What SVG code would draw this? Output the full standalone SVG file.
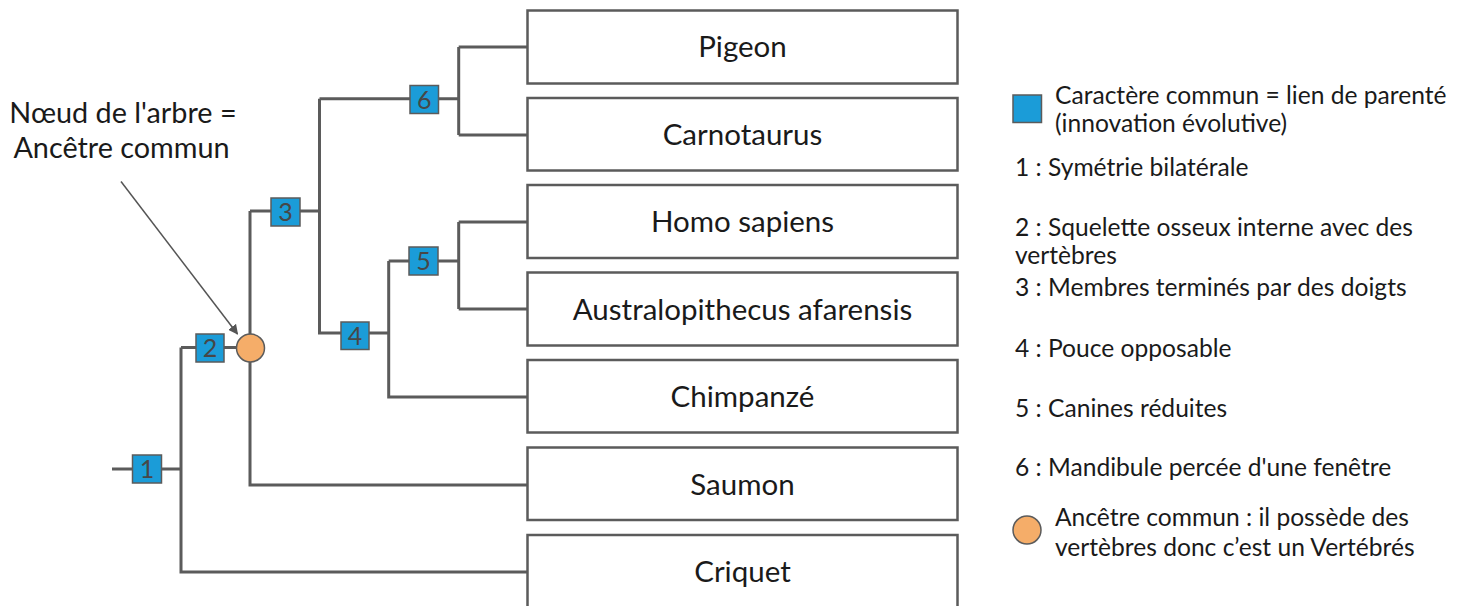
<svg xmlns="http://www.w3.org/2000/svg" width="1467" height="606" viewBox="0 0 1467 606">
<style>
  .box { fill: #ffffff; stroke: #5b5b5b; stroke-width: 2.5; }
  .lbl { font-family: Lato, "Open Sans", sans-serif; font-size: 29.5px; fill: #1a1a1a; text-anchor: middle; }
  .edge { fill: none; stroke: #5b5b5b; stroke-width: 3; }
  .sq { fill: #1b9cd8; stroke: #5b5b5b; stroke-width: 1.5; }
  .num { font-family: Lato, "Open Sans", sans-serif; font-size: 25px; fill: #474747; text-anchor: middle; }
  .anc { fill: #f5ad69; stroke: #5b5b5b; stroke-width: 1.5; }
  .leg { font-family: Lato, "Open Sans", sans-serif; font-size: 24.6px; fill: #1a1a1a; }
  .note { font-family: Lato, "Open Sans", sans-serif; font-size: 28.8px; fill: #1a1a1a; text-anchor: middle; }
</style>
<defs>
  <marker id="arr" markerWidth="10" markerHeight="10" refX="9" refY="5" orient="auto" markerUnits="userSpaceOnUse" viewBox="0 0 10 10">
    <path d="M0,0 L10,5 L0,10 z" fill="#555555"/>
  </marker>
</defs>
<rect width="1467" height="606" fill="#ffffff"/>

<g id="connectors">
  <path class="edge" d="M112,469 H181 M181,347.5 V572 H527.5"/>
  <path class="edge" d="M181,347.5 H250"/>
  <path class="edge" d="M250,211 V485 H527.5"/>
  <path class="edge" d="M250,211 H319.5 M319.5,98.7 V333 H388.7"/>
  <path class="edge" d="M319.5,98.7 H458.7 M458.7,47 V135 M458.7,47 H527.5 M458.7,135 H527.5"/>
  <path class="edge" d="M388.7,261 V397 H527.5 M388.7,261 H458.7 M458.7,222 V309 M458.7,222 H527.5 M458.7,309 H527.5"/>
  <line x1="121" y1="181.5" x2="237.5" y2="334" stroke="#555555" stroke-width="1.5" marker-end="url(#arr)"/>
</g>

<g id="char1"><rect class="sq" x="132.5" y="455" width="29" height="28"/><text class="num" x="147" y="478">1</text></g>
<g id="char2"><rect class="sq" x="196" y="334" width="28" height="28"/><text class="num" x="210" y="357">2</text></g>
<g id="char3"><rect class="sq" x="271" y="198" width="29" height="28"/><text class="num" x="285.5" y="221">3</text></g>
<g id="char4"><rect class="sq" x="341" y="322" width="28" height="27.5"/><text class="num" x="355" y="344.5">4</text></g>
<g id="char5"><rect class="sq" x="409" y="247" width="29" height="28"/><text class="num" x="423.5" y="270">5</text></g>
<g id="char6"><rect class="sq" x="410" y="85.5" width="28.5" height="28"/><text class="num" x="424.2" y="108.5">6</text></g>
<g id="ancestor"><circle class="anc" cx="250.5" cy="348" r="14"/></g>

<g id="note">
  <text class="note" x="123" y="123">Nœud de l'arbre =</text>
  <text class="note" x="121.5" y="158">Ancêtre commun</text>
</g>

<g id="pigeon"><rect class="box" x="527.5" y="10.5" width="430" height="73"/><text class="lbl" x="742.5" y="57">Pigeon</text></g>
<g id="carnotaurus"><rect class="box" x="527.5" y="98" width="430" height="72.5"/><text class="lbl" x="742.5" y="144.5">Carnotaurus</text></g>
<g id="homo"><rect class="box" x="527.5" y="185" width="430" height="73"/><text class="lbl" x="742.5" y="232">Homo sapiens</text></g>
<g id="australopithecus"><rect class="box" x="527.5" y="272.5" width="430" height="73"/><text class="lbl" x="742.5" y="319.5">Australopithecus afarensis</text></g>
<g id="chimpanze"><rect class="box" x="527.5" y="360" width="430" height="72.5"/><text class="lbl" x="742.5" y="407">Chimpanzé</text></g>
<g id="saumon"><rect class="box" x="527.5" y="447.5" width="430" height="72.5"/><text class="lbl" x="742.5" y="494.5">Saumon</text></g>
<g id="criquet"><rect class="box" x="527.5" y="535" width="430" height="73"/><text class="lbl" x="742.5" y="582">Criquet</text></g>

<g id="legend">
  <rect class="sq" x="1013" y="95" width="28.5" height="27.5"/>
  <text class="leg" x="1055" y="104">Caractère commun = lien de parenté</text>
  <text class="leg" x="1055" y="132">(innovation évolutive)</text>
  <text class="leg" x="1015" y="176">1 : Symétrie bilatérale</text>
  <text class="leg" x="1015" y="236">2 : Squelette osseux interne avec des</text>
  <text class="leg" x="1015" y="264">vertèbres</text>
  <text class="leg" x="1015" y="296">3 : Membres terminés par des doigts</text>
  <text class="leg" x="1015" y="357">4 : Pouce opposable</text>
  <text class="leg" x="1015" y="417">5 : Canines réduites</text>
  <text class="leg" x="1015" y="476">6 : Mandibule percée d'une fenêtre</text>
  <circle class="anc" cx="1027" cy="530" r="14"/>
  <text class="leg" x="1055" y="526">Ancêtre commun : il possède des</text>
  <text class="leg" x="1055" y="556">vertèbres donc c’est un Vertébrés</text>
</g>
</svg>
